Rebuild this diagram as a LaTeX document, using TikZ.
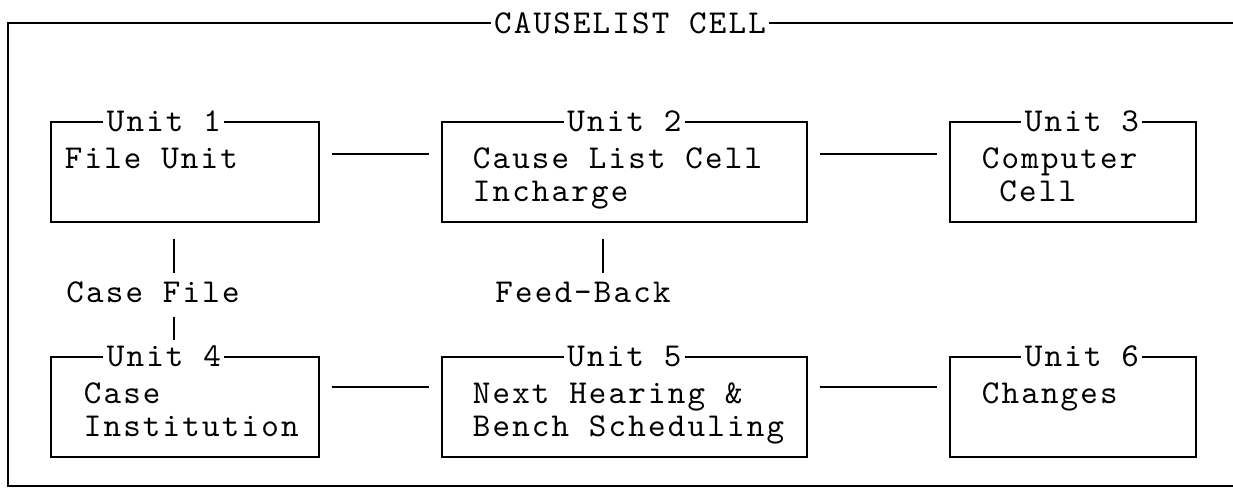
\documentclass[tikz,border=0pt]{standalone}
\usepackage{fontspec}
\newfontfamily\courierfont{lmmono10-regular.otf}[LetterSpace=6.6]
\usetikzlibrary{positioning,calc}

\begin{document}
\begin{tikzpicture}[line width=0.9pt,
    every node/.style={font=\courierfont\fontsize{19}{19}\selectfont,inner sep=0pt},
    unitbox/.style={draw,anchor=north west,minimum height=2cm},
    unittag/.style={fill=white,inner xsep=2pt},
    unittext/.style={anchor=north west,align=left},
    link/.style={shorten <=0.24cm,shorten >=0.24cm}]
  \useasboundingbox (0,0) rectangle (24.66,-9.82);
  % outer frame
  \draw (24.66,-0.46) -- (0.16,-0.46) -- (0.16,-9.72) -- (24.66,-9.72);
  \node[unittag] (cell) at (12.6,-0.46) {CAUSELIST CELL};

  % units
  \node[unitbox,minimum width=5.36cm] (u1) at (1.0,-2.42) {};
  \node[unitbox,minimum width=7.30cm] (u2) at (8.82,-2.42) {};
  \node[unitbox,minimum width=4.92cm] (u3) at (18.98,-2.42) {};
  \node[unitbox,minimum width=5.36cm] (u4) at (1.0,-7.12) {};
  \node[unitbox,minimum width=7.30cm] (u5) at (8.82,-7.12) {};
  \node[unitbox,minimum width=4.92cm] (u6) at (18.98,-7.12) {};

  \node[unittag] (l1) at ([xshift=-0.42cm]u1.north) {Unit 1};
  \node[unittag] (l2) at (u2.north) {Unit 2};
  \node[unittag] (l3) at ([xshift=0.18cm]u3.north) {Unit 3};
  \node[unittag] (l4) at ([xshift=-0.42cm]u4.north) {Unit 4};
  \node[unittag] (l5) at (u5.north) {Unit 5};
  \node[unittag] (l6) at ([xshift=0.18cm]u6.north) {Unit 6};

  \node[unittext] (t1) at ([xshift=0.28cm,yshift=-0.52cm]u1.north west) {File Unit};
  \node[unittext] (t2) at ([xshift=0.62cm,yshift=-0.52cm]u2.north west) {Cause List Cell\\Incharge};
  \node[unittext] (t3) at ([xshift=0.64cm,yshift=-0.52cm]u3.north west) {Computer\\\hphantom{C}Cell};
  \node[unittext] (t4) at ([xshift=0.66cm,yshift=-0.52cm]u4.north west) {Case\\Institution};
  \node[unittext] (t5) at ([xshift=0.62cm,yshift=-0.52cm]u5.north west) {Next Hearing \&\\Bench Scheduling};
  \node[unittext] (t6) at ([xshift=0.64cm,yshift=-0.52cm]u6.north west) {Changes};

  \draw[link] ([yshift=-0.66cm]u1.north east) -- ([yshift=-0.66cm]u2.north west);
  \draw[link] ([yshift=-0.66cm]u2.north east) -- ([yshift=-0.66cm]u3.north west);
  \draw[link] ([yshift=-0.62cm]u4.north east) -- ([yshift=-0.62cm]u5.north west);
  \draw[link] ([yshift=-0.62cm]u5.north east) -- ([yshift=-0.62cm]u6.north west);

  % flow labels
  \node (cf) at (3.06,-5.84) {Case File};
  \node (fb) at (11.66,-5.84) {Feed-Back};
  \coordinate (v1) at (3.48,-5.0);
  \coordinate (v2) at (12.06,-5.0);
  \draw[shorten <=0.32cm,shorten >=0.16cm] (v1 |- u1.south) -- (v1 |- cf.north);
  \draw[shorten <=0.28cm,shorten >=0.1cm] (v1 |- cf.south) -- (v1 |- l4.north);
  \draw[shorten <=0.32cm,shorten >=0.16cm] (v2 |- u2.south) -- (v2 |- fb.north);
\end{tikzpicture}
\end{document}
